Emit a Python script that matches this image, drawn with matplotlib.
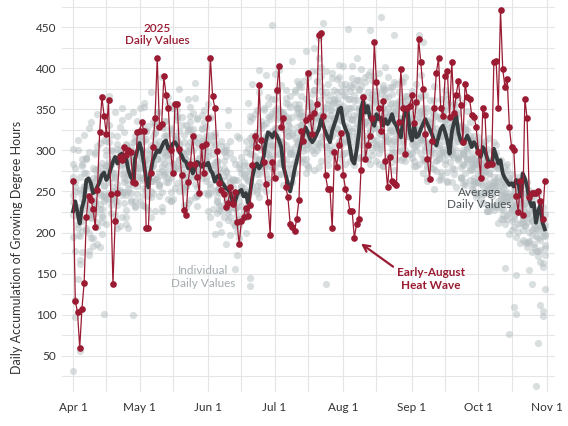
import numpy as np
import pandas as pd
import matplotlib
matplotlib.use("Agg")
import matplotlib.pyplot as plt
import matplotlib.dates as mdates

plt.rcParams['font.family'] = ['Lato', 'DejaVu Sans']

start_date = "2025-04-01"

# 2025 daily values (Apr 1 - Oct 31)
red_2025 = [
    263,117,103,60,107,139,219,245,240,229,207,252,322,365,342,320,361,247,137,214,248,292,288,304,294,300,298,262,260,322,
    324,334,323,205,205,272,304,339,413,329,332,390,367,352,301,273,356,357,302,270,228,221,262,284,317,284,268,248,305,272,308,
    339,412,366,352,299,260,252,247,231,236,255,235,249,213,186,214,219,230,220,234,282,317,304,379,313,286,259,237,197,286,
    266,373,403,329,339,256,243,211,207,202,217,240,323,312,337,394,341,320,346,356,440,443,342,270,253,253,205,298,280,306,321,
    270,253,243,226,226,194,210,217,276,365,289,307,317,339,432,383,351,324,360,287,255,292,263,260,258,335,399,351,296,352,354,
    367,333,359,436,407,375,320,290,265,311,352,394,412,351,342,391,396,341,408,346,368,385,355,310,381,365,363,343,341,329,
    298,267,352,343,282,284,284,408,409,352,471,399,377,387,328,304,300,245,225,263,221,363,339,243,248,248,248,250,238,217,263,
]

# Average daily values
avg_daily = [
    226,238,224,211,230,240,264,266,260,248,250,256,262,270,273,264,268,278,286,292,284,294,296,294,290,276,268,264,290,300,
    309,300,284,264,255,274,288,294,300,298,304,310,312,302,304,308,310,306,298,294,288,286,278,282,272,278,286,284,280,284,282,
    285,276,272,262,268,270,262,258,254,252,248,238,236,246,250,252,244,248,236,250,268,280,284,278,282,292,310,322,320,316,
    322,318,312,304,280,270,260,250,262,276,288,298,310,320,328,322,314,310,314,320,326,338,330,322,316,310,324,332,340,350,352,
    334,326,320,304,288,284,300,320,350,360,346,354,340,336,330,344,338,340,330,338,332,336,344,334,330,322,316,336,348,350,322,
    312,330,316,318,326,332,338,332,326,320,312,306,316,326,330,322,312,296,322,334,342,322,312,308,312,318,312,304,310,306,
    298,292,304,300,290,284,282,302,294,284,288,272,266,262,258,260,256,264,262,244,272,266,256,240,232,236,212,226,234,212,204,
]

# Individual daily values of earlier seasons
g_2017 = [
    195,262,301,214,176,238,289,327,256,231,298,344,280,219,247,312,366,301,242,268,233,290,351,322,264,205,248,310,279,336,
    352,301,246,283,330,371,318,265,290,347,389,336,274,241,295,352,318,260,288,341,310,257,236,279,326,364,309,271,298,334,287,
    246,219,270,318,287,233,201,252,301,349,312,265,230,264,315,292,248,223,275,336,381,344,290,262,301,349,392,356,311,452,
    325,372,398,347,301,279,318,366,409,371,322,290,331,384,421,389,338,305,352,396,437,401,455,319,297,343,388,362,327,350,381,
    403,366,324,298,337,381,412,375,331,306,349,392,447,386,342,313,297,338,374,401,365,328,302,344,381,357,318,291,326,362,339,
    311,287,326,364,392,351,312,281,309,347,378,342,303,274,298,336,369,340,301,277,256,293,331,358,322,289,264,296,318,285,
    262,241,279,311,286,254,232,261,290,268,239,217,248,276,77,228,207,236,264,241,216,189,223,252,230,205,178,210,238,105,196,
]
g_2018 = [
    246,97,231,167,202,257,243,298,335,279,224,186,235,272,258,301,276,233,291,347,308,252,219,266,302,283,240,267,318,294,
    268,233,279,324,296,251,284,333,302,258,226,271,319,356,327,285,310,349,375,331,284,257,299,342,313,276,244,285,326,302,266,
    299,341,318,272,238,211,256,298,275,229,197,241,283,317,283,248,271,312,358,135,296,315,349,371,336,302,333,365,342,307,
    280,308,349,380,344,307,271,296,341,374,352,311,286,327,362,393,358,324,349,384,412,378,337,304,332,367,394,358,321,295,336,
    368,347,312,287,324,361,386,349,316,291,334,371,395,362,327,304,338,369,351,318,293,322,358,383,349,315,288,312,341,366,334,
    359,328,301,335,368,432,346,308,284,311,344,321,289,265,302,338,362,329,297,318,346,312,280,259,293,325,308,276,251,284,
    316,289,257,286,302,271,244,268,297,279,246,221,258,283,262,231,109,244,268,237,212,248,222,189,215,241,218,193,164,201,223,
]
g_2019 = [
    302,256,211,56,284,319,272,229,194,241,276,305,263,221,257,294,331,282,247,215,252,301,337,289,246,271,304,347,312,275,
    239,267,312,288,245,219,263,309,347,311,275,298,336,365,321,283,254,281,323,298,256,231,268,310,345,382,338,291,267,302,329,
    357,319,282,251,224,262,305,279,238,215,247,289,264,231,209,251,286,267,303,342,310,277,252,288,331,308,271,296,338,362,
    393,351,312,287,326,358,336,298,271,304,345,381,347,313,289,321,359,396,425,384,341,310,344,138,357,323,301,339,371,404,372,
    339,311,344,379,403,368,333,306,328,365,389,354,323,301,331,367,394,462,376,339,312,345,377,352,321,299,327,360,389,355,325,
    297,322,356,441,348,314,288,266,299,334,361,327,296,318,349,373,338,303,279,309,341,365,329,296,272,301,334,313,284,262,
    287,309,279,251,226,259,287,310,281,252,229,255,281,262,237,214,247,148,251,226,203,235,262,239,214,186,221,247,226,99,181,
]
g_2020 = [
    221,178,143,196,241,272,234,199,227,266,249,213,182,229,101,241,286,319,273,238,206,249,288,262,227,259,293,276,238,257,
    286,319,353,314,272,243,281,321,296,259,289,327,303,266,238,274,312,337,301,265,296,331,362,326,287,259,232,270,309,284,248,
    226,259,296,321,287,254,232,269,305,331,297,264,156,215,248,277,254,226,263,296,318,283,257,289,327,352,317,281,304,346,
    362,327,296,271,309,342,318,284,261,295,329,357,331,299,272,308,343,369,336,301,280,316,348,371,339,306,329,361,387,353,317,
    296,331,362,338,304,282,317,352,378,345,313,289,322,355,337,306,284,319,351,374,341,309,286,314,346,371,339,308,287,318,344,
    372,339,307,283,314,345,368,336,302,279,253,287,318,342,311,283,261,296,327,351,316,288,266,301,329,305,279,258,290,312,
    293,268,247,276,298,273,249,228,257,282,259,236,211,243,267,245,220,101,231,256,233,209,187,218,244,222,196,172,208,231,209,
]
g_2021 = [
    31,118,205,252,289,247,206,173,219,258,296,267,229,198,243,281,262,224,251,289,318,281,246,274,306,342,299,258,231,268,
    297,264,232,267,301,279,248,226,265,303,329,297,262,288,325,352,318,279,250,284,319,297,263,240,276,312,339,305,272,296,318,
    293,256,229,198,237,274,251,219,186,224,262,241,208,173,216,255,282,249,281,315,340,306,271,243,276,313,295,262,291,324,
    349,318,285,312,347,373,339,302,279,315,351,378,342,306,283,318,354,330,297,326,361,390,353,316,289,322,356,338,306,281,312,
    346,375,352,318,293,327,361,386,353,319,297,331,364,342,309,287,321,356,380,347,314,336,369,441,358,323,301,333,366,349,316,
    291,318,349,326,295,272,304,337,361,329,297,275,306,338,319,288,263,298,330,356,322,291,268,297,326,348,317,284,259,278,
    247,272,298,275,249,226,257,283,306,278,251,229,157,238,264,242,217,195,226,252,230,208,182,154,197,226,204,178,112,163,198,
]
g_2022 = [
    268,231,197,162,214,256,291,258,224,193,236,277,309,271,239,210,248,283,255,221,259,296,271,236,211,249,287,100,282,247,
    278,311,287,252,228,263,297,322,289,257,231,269,304,281,249,276,313,342,307,273,249,288,324,353,319,283,256,291,327,349,314,
    281,248,276,308,282,249,226,258,293,268,235,212,245,221,193,232,269,298,264,233,258,293,322,288,256,282,316,341,307,279,
    304,338,311,283,258,289,324,353,319,287,312,345,377,342,307,281,315,348,373,339,305,332,368,397,361,326,299,334,363,389,350,
    321,297,329,362,388,353,319,292,326,358,383,351,318,294,327,361,343,309,281,316,352,377,343,311,289,321,354,383,351,317,296,
    328,359,381,346,313,289,321,352,333,301,277,308,339,363,328,296,274,303,333,358,324,291,266,297,325,303,276,253,282,306,
    283,259,236,264,291,315,284,256,231,261,288,264,239,217,245,271,249,224,201,235,258,236,213,190,138,249,228,203,179,207,185,
]
g_2023 = [
    237,279,313,268,229,252,291,256,218,184,231,269,246,213,244,282,310,274,241,267,302,329,284,249,219,253,289,265,232,279,
    317,289,254,231,270,307,335,302,268,245,281,318,294,261,239,276,314,341,309,277,253,289,326,302,268,243,279,316,343,308,275,
    248,281,312,286,253,228,264,299,274,241,219,255,229,201,238,273,251,219,245,145,306,277,248,271,305,331,298,265,289,318,
    344,372,341,309,287,322,356,329,296,273,308,341,366,335,302,278,312,345,373,341,308,287,319,352,381,349,317,294,326,358,337,
    309,284,318,352,377,343,312,291,325,357,336,306,283,314,347,372,338,305,281,311,343,325,297,276,308,339,364,332,301,329,357,
    336,304,281,309,338,316,287,263,294,327,353,321,291,269,298,331,355,323,294,271,301,329,312,283,261,289,314,291,266,247,
    271,296,272,248,226,253,279,258,234,212,241,266,245,221,198,229,256,234,211,187,218,243,222,201,176,211,13,215,191,158,131,
]
g_2024 = [
    284,251,219,248,281,236,203,178,221,262,238,207,248,285,313,278,241,266,299,273,238,208,249,282,308,271,237,262,293,313,
    293,327,358,324,291,263,298,331,307,274,249,284,317,295,266,241,278,313,289,258,234,271,305,334,301,269,246,279,312,291,263,
    311,339,304,271,243,277,312,287,252,227,261,237,209,246,279,257,225,199,236,272,251,284,318,398,313,279,251,283,316,295,
    327,296,271,303,338,364,331,297,321,356,384,351,316,289,321,354,334,301,276,309,343,372,339,305,282,317,349,374,342,311,289,
    354,381,448,372,338,311,342,374,399,366,333,308,337,369,391,359,326,302,334,365,389,356,323,298,328,360,385,351,319,296,327,
    308,281,312,341,365,332,301,278,309,339,318,288,264,295,326,349,317,286,262,292,323,346,313,282,258,286,311,288,263,243,
    261,284,307,281,257,232,261,287,264,239,216,246,272,249,224,203,234,258,237,212,191,225,249,227,203,182,216,66,219,196,173,
]

x_tick_labels = ["Apr 1", "May 1", "Jun 1", "Jul 1", "Aug 1", "Sep 1", "Oct 1", "Nov 1"]
x_tick_dates = ["2025-04-01", "2025-05-01", "2025-06-01", "2025-07-01",
                "2025-08-01", "2025-09-01", "2025-10-01", "2025-11-01"]
x_minor_dates = ["2025-04-16", "2025-05-16", "2025-06-16", "2025-07-16",
                 "2025-08-16", "2025-09-16", "2025-10-16"]
y_ticks = [50, 100, 150, 200, 250, 300, 350, 400, 450]
y_minor = [25, 75, 125, 175, 225, 275, 325, 375, 425, 475]

RED = "#9a1b32"
DARK = "#373c3f"
GRAY = "#b5bec1"


def dates_for(values):
    return pd.date_range(start_date, periods=len(values), freq="D")


fig = plt.figure(figsize=(5.68, 4.26), dpi=100)
ax = fig.add_axes([62 / 568, 34 / 426, 493 / 568, 392 / 426])

for series in [g_2017, g_2018, g_2019, g_2020, g_2021, g_2022, g_2023, g_2024]:
    ax.scatter(dates_for(series), series, s=27, color=GRAY, alpha=0.5,
               linewidths=0, zorder=2)

ax.plot(dates_for(avg_daily), avg_daily, color=DARK, lw=2.8, zorder=3,
        solid_joinstyle="round")
ax.plot(dates_for(red_2025), red_2025, color=RED, lw=0.9, marker="o",
        markersize=4.8, markeredgewidth=0, zorder=4)

xmin = pd.Timestamp("2025-04-01") - pd.Timedelta(days=5)
xmax = pd.Timestamp("2025-11-01") + pd.Timedelta(days=3.6)
ax.set_xlim(xmin, xmax)
ax.set_ylim(6, 483)

ax.set_xticks(pd.to_datetime(x_tick_dates))
ax.set_xticklabels(x_tick_labels)
ax.set_xticks(pd.to_datetime(x_minor_dates), minor=True)
ax.set_yticks(y_ticks)
ax.set_yticks(y_minor, minor=True)

ax.grid(True, which="both", color="#e3e5e6", lw=0.8, zorder=0)
ax.set_axisbelow(True)
for sp in ax.spines.values():
    sp.set_visible(False)
ax.tick_params(which="both", length=0, labelsize=8.5, labelcolor="#333333")
ax.tick_params(axis="x", pad=7)
ax.tick_params(axis="y", pad=4)

fig.text(17 / 568, 1 - 247 / 426, "Daily Accumulation of Growing Degree Hours",
         rotation=90, ha="center", va="center", fontsize=9, color="#333333")


def dpos(day, val):
    return (mdates.date2num(pd.Timestamp(start_date) + pd.Timedelta(days=day)), val)


ax.text(*dpos(38, 441), "2025\nDaily Values", ha="center", va="center",
        fontsize=8.5, color=RED, fontweight="semibold", linespacing=1.15, zorder=6)
ax.text(*dpos(58.7, 146), "Individual\nDaily Values", ha="center", va="center",
        fontsize=8.5, color="#a3abae", linespacing=1.15, zorder=6)
ax.text(*dpos(183.3, 241.5), "Average\nDaily Values", ha="center", va="center",
        fontsize=8.5, color="#4b5154", linespacing=1.15, zorder=6)
ax.text(*dpos(161.6, 143.3), "Early-August\nHeat Wave", ha="center", va="center",
        fontsize=8.5, color=RED, fontweight="bold", linespacing=1.15, zorder=6)
ax.annotate("", xy=dpos(130, 186.6), xytext=dpos(144.5, 158.5),
            arrowprops=dict(arrowstyle="->", color=RED, lw=1.6,
                            mutation_scale=12, shrinkA=0, shrinkB=0), zorder=6)

fig.savefig("out.png", dpi=100)
